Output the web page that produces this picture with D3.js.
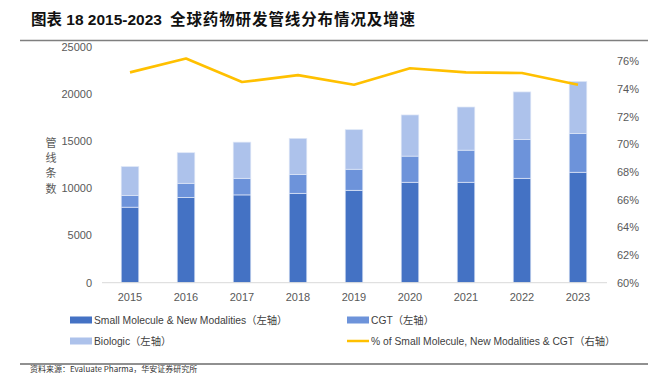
<!DOCTYPE html>
<html>
<head>
<meta charset="utf-8">
<script src="https://cdn.jsdelivr.net/npm/d3@7"></script>
<style>
  body { margin: 0; background: #fff; }
  svg { display: block; font-family: "Liberation Sans", Arial, "Noto Sans CJK SC", sans-serif; }
</style>
</head>
<body>
<svg id="chart" width="667" height="373"></svg>
<script>
// data
var years = ["2015", "2016", "2017", "2018", "2019", "2020", "2021", "2022", "2023"];
var smallMolecule = [8000, 9040, 9300, 9470, 9790, 10640, 10640, 11060, 11700];
var cgt = [1250, 1490, 1760, 1990, 2230, 2770, 3400, 4120, 4120];
var biologic = [3050, 3240, 3830, 3830, 4190, 4360, 4570, 5030, 5500];
var share = [0.752, 0.762, 0.745, 0.750, 0.743, 0.755, 0.752, 0.7515, 0.743];
var leftTicks = [0, 5000, 10000, 15000, 20000, 25000];
var rightTicks = [0.60, 0.62, 0.64, 0.66, 0.68, 0.70, 0.72, 0.74, 0.76];
var seriesNames = ["Small Molecule & New Modalities（左轴）", "CGT（左轴）", "Biologic（左轴）", "% of Small Molecule, New Modalities & CGT（右轴）"];
var colors = ["#4472C4", "#6D93DA", "#ADC2EB", "#FFC000"];

var svg = d3.select("#chart");

// title
var title = svg.append("text")
    .attr("x", 31)
    .attr("y", 25)
    .attr("font-size", 15.5)
    .attr("font-weight", "bold")
    .attr("fill", "#111")
    .attr("font-family", "'Liberation Sans', 'Noto Sans CJK SC', sans-serif");
title.append("tspan").text("图表 18 2015-2023");
title.append("tspan").attr("dx", 8).attr("letter-spacing", 0.9).text("全球药物研发管线分布情况及增速");

svg.append("line")
    .attr("x1", 20).attr("x2", 648)
    .attr("y1", 40.5).attr("y2", 40.5)
    .attr("stroke", "#7f7f7f")
    .attr("stroke-width", 1.5);

var x = d3.scaleBand()
    .domain(years)
    .range([102, 606])
    .paddingInner(0.686)
    .paddingOuter(0.343);

var yLeft = d3.scaleLinear().domain([0, 25000]).range([282.7, 46.7]);
var yRight = d3.scaleLinear().domain([0.60, 0.76]).range([282.7, 61.3]);

// stacked bars
var rows = years.map(function (y, i) {
    return { year: y, small: smallMolecule[i], cgt: cgt[i], bio: biologic[i] };
});
var stack = d3.stack().keys(["small", "cgt", "bio"]);
var layers = stack(rows);

svg.append("g").selectAll("g")
    .data(layers)
    .enter().append("g")
    .attr("fill", function (d, i) { return colors[i]; })
    .selectAll("rect")
    .data(function (d) { return d; })
    .enter().append("rect")
    .attr("x", function (d) { return x(d.data.year); })
    .attr("y", function (d) { return yLeft(d[1]); })
    .attr("width", x.bandwidth())
    .attr("height", function (d) { return yLeft(d[0]) - yLeft(d[1]); })
    .attr("stroke", "#dfe7f7")
    .attr("stroke-width", 0.7);

// baseline
svg.append("line")
    .attr("x1", 102).attr("x2", 607)
    .attr("y1", yLeft(0)).attr("y2", yLeft(0))
    .attr("stroke", "#d9d9d9")
    .attr("stroke-width", 1);

// line on right axis
var line = d3.line()
    .x(function (d, i) { return x(years[i]) + x.bandwidth() / 2; })
    .y(function (d) { return yRight(d); });

svg.append("path")
    .datum(share)
    .attr("d", line)
    .attr("fill", "none")
    .attr("stroke", colors[3])
    .attr("stroke-width", 2.6)
    .attr("stroke-linejoin", "round");

// left axis labels
svg.append("g").selectAll("text")
    .data(leftTicks)
    .enter().append("text")
    .attr("x", 92)
    .attr("y", function (d) { return yLeft(d); })
    .attr("dy", "0.35em")
    .attr("text-anchor", "end")
    .attr("font-size", 11)
    .attr("fill", "#595959")
    .text(function (d) { return d; });

// right axis labels
svg.append("g").selectAll("text")
    .data(rightTicks)
    .enter().append("text")
    .attr("x", 617)
    .attr("y", function (d) { return yRight(d); })
    .attr("dy", "0.35em")
    .attr("font-size", 11)
    .attr("fill", "#595959")
    .text(d3.format(".0%"));

// x labels
svg.append("g").selectAll("text")
    .data(years)
    .enter().append("text")
    .attr("x", function (d) { return x(d) + x.bandwidth() / 2; })
    .attr("y", 297)
    .attr("dy", "0.35em")
    .attr("text-anchor", "middle")
    .attr("font-size", 11)
    .attr("fill", "#595959")
    .text(function (d) { return d; });

// vertical axis title
svg.append("g").selectAll("text")
    .data("管线条数".split(""))
    .enter().append("text")
    .attr("x", 51)
    .attr("y", function (d, i) { return 143 + i * 15.3; })
    .attr("dy", "0.35em")
    .attr("text-anchor", "middle")
    .attr("font-size", 11)
    .attr("fill", "#595959")
    .attr("font-family", "'Noto Sans CJK SC', sans-serif")
    .text(function (d) { return d; });

// legend
var legendPos = [[70, 320], [347, 320], [70, 341], [347, 341]];
var legend = svg.append("g").selectAll("g")
    .data(seriesNames)
    .enter().append("g")
    .attr("transform", function (d, i) { return "translate(" + legendPos[i][0] + "," + legendPos[i][1] + ")"; });

legend.filter(function (d, i) { return i < 3; })
    .append("rect")
    .attr("x", 0).attr("y", -3.5)
    .attr("width", 22).attr("height", 7)
    .attr("fill", function (d, i) { return colors[i]; });

legend.filter(function (d, i) { return i === 3; })
    .append("line")
    .attr("x1", 0).attr("x2", 22)
    .attr("y1", 0).attr("y2", 0)
    .attr("stroke", colors[3])
    .attr("stroke-width", 2.5);

legend.append("text")
    .attr("x", 24)
    .attr("y", 0)
    .attr("dy", "0.35em")
    .attr("font-size", 10.3)
    .attr("fill", "#404040")
    .text(function (d) { return d; });

// bottom rule and source line
svg.append("line")
    .attr("x1", 20).attr("x2", 648)
    .attr("y1", 364).attr("y2", 364)
    .attr("stroke", "#222")
    .attr("stroke-width", 1.2);

svg.append("text")
    .attr("x", 30)
    .attr("y", 372)
    .attr("font-size", 8)
    .attr("fill", "#333")
    .attr("font-family", "'Noto Sans CJK SC', sans-serif")
    .text("资料来源：Evaluate Pharma，华安证券研究所");
</script>
</body>
</html>
